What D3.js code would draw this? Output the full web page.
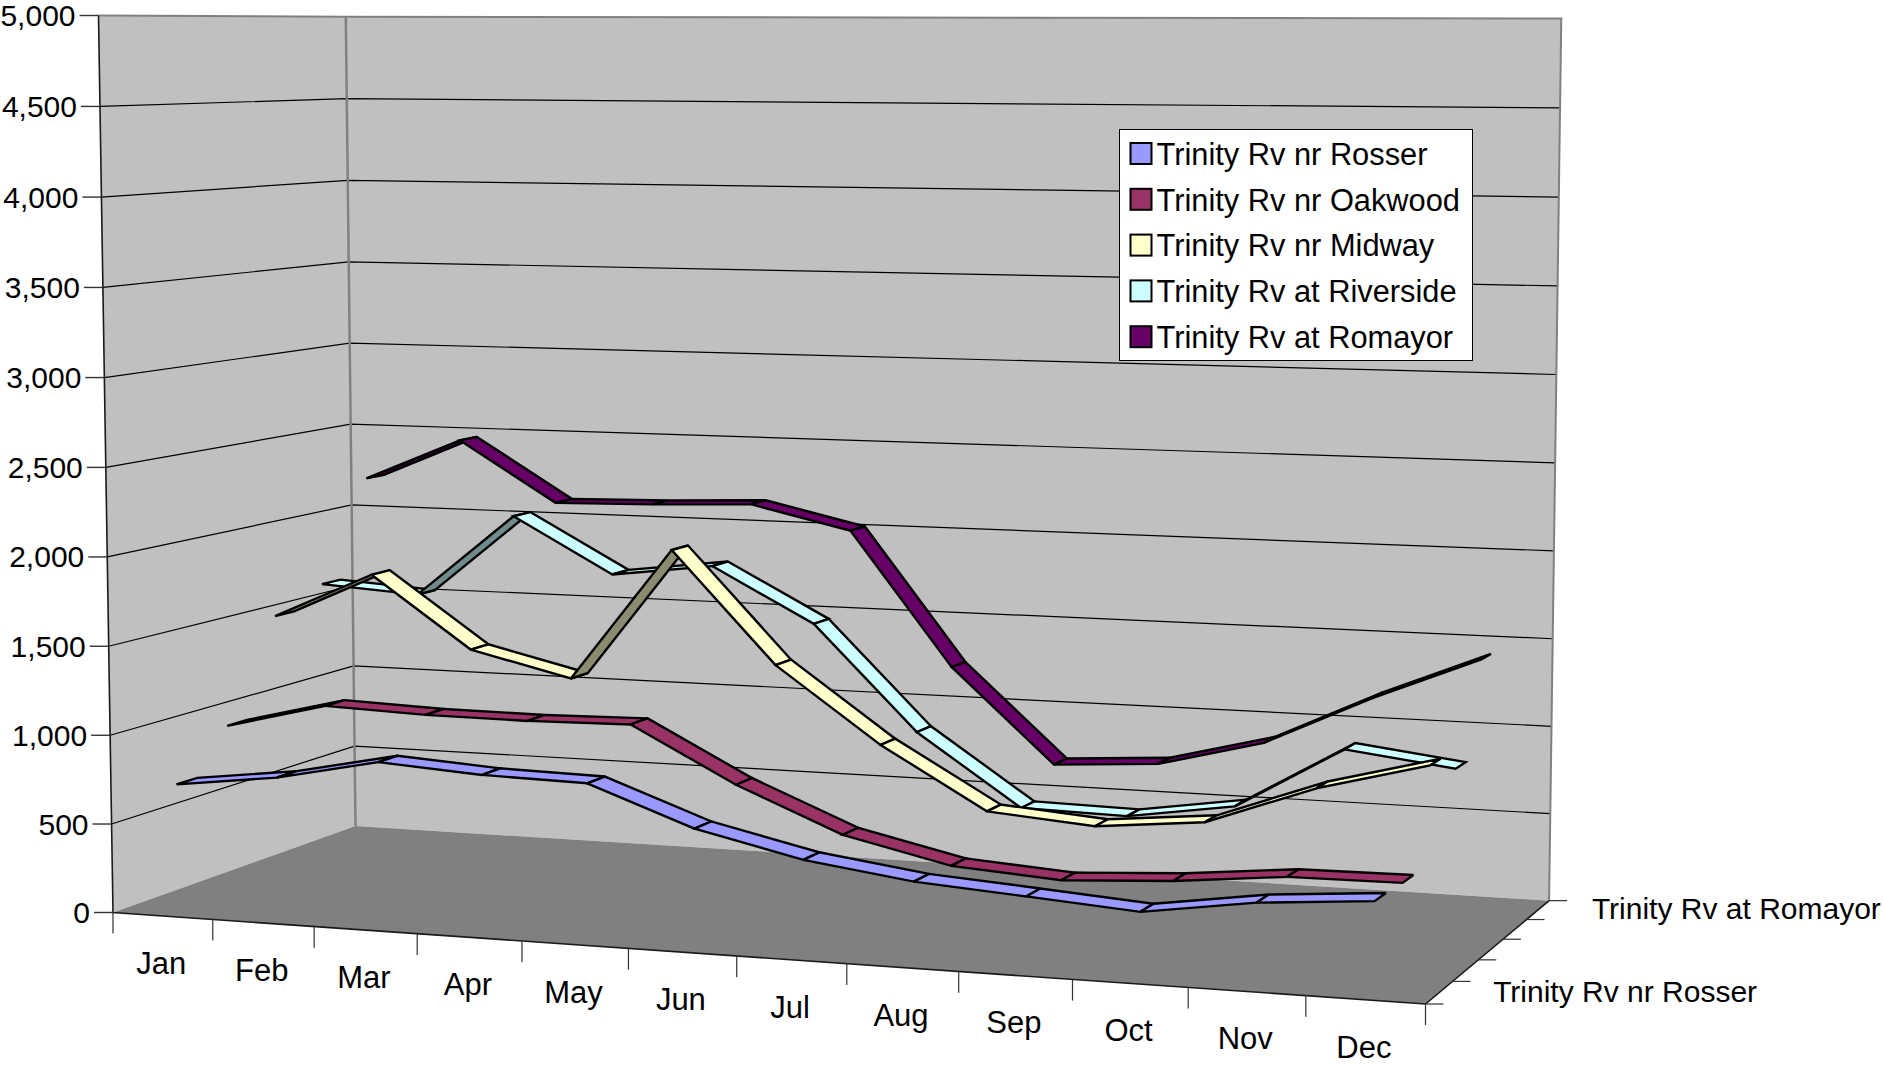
<!DOCTYPE html>
<html>
<head>
<meta charset="utf-8">
<script src="https://cdn.jsdelivr.net/npm/d3@7"></script>
<style>
    html, body { margin: 0; padding: 0; background: #ffffff; overflow: hidden; }
    text { font-family: "Liberation Sans", Arial, sans-serif; font-size: 31px; fill: #000000; }
    text.value-label, text.depth-label { font-size: 30px; }
    text.legend-label { font-size: 30.8px; }
</style>
</head>
<body>
<svg id="chart" width="1883" height="1067"></svg>
<script>
var months = ["Jan", "Feb", "Mar", "Apr", "May", "Jun", "Jul", "Aug", "Sep", "Oct", "Nov", "Dec"];
var seriesNames = ["Trinity Rv nr Rosser", "Trinity Rv nr Oakwood", "Trinity Rv nr Midway", "Trinity Rv at Riverside", "Trinity Rv at Romayor"];
var seriesColors = ["#9999ff", "#993366", "#ffffcc", "#ccffff", "#660066"];
var valueTicks = [0, 500, 1000, 1500, 2000, 2500, 3000, 3500, 4000, 4500, 5000];

var rosser    = [713, 785, 905, 868, 856, 643, 510, 430, 389, 346, 434, 481];
var oakwood   = [958, 1104, 1084, 1081, 1093, 789, 546, 412, 371, 405, 465, 471];
var midway    = [1517, 1785, 1378, 1240, 2002, 1375, 955, 615, 567, 625, 847, 1006];
var riverside = [1637, 1600, 2088, 1770, 1844, 1535, 940, 538, 527, 617, 971, 896];
var romayor   = [2213, 2464, 2108, 2121, 2144, 2010, 1235, 696, 733, 887, 1173, 1423];
var seriesValues = [rosser, oakwood, midway, riverside, romayor];

var origin = [113, 912.5],   // front left, floor
    right  = [1425.5, 1004], // front right, floor
    up     = [98.5, 15.5],   // front left, top of wall
    back   = [355.5, 826];   // back left, floor
var persp = { u: -0.0847, v: -0.015, w: 0.1084 };
var skew = [5, -6]; // back right top corner sits a bit off the pure perspective
var bow = 14;       // months bunch up a little more to the left than the corners say

function axisVector(corner, k) {
    return [(1 + k) * corner[0] - origin[0], (1 + k) * corner[1] - origin[1]];
}
var vecU = axisVector(right, persp.u),
    vecV = axisVector(up, persp.v),
    vecW = axisVector(back, persp.w);

function project(u, v, w) {
    let h = 1 + persp.u * u + persp.v * v + persp.w * w;
    return [
        (origin[0] + u * vecU[0] + v * vecV[0] + w * vecW[0]) / h + skew[0] * u * v * w - bow * u * (1 - u),
        (origin[1] + u * vecU[1] + v * vecV[1] + w * vecW[1]) / h + skew[1] * u * v * w
    ];
}

var monthScale = d3.scaleBand().domain(months).range([0, 1]);
var valueScale = d3.scaleLinear().domain([0, 5000]).range([0, 1]);
var depthScale = d3.scaleBand().domain(seriesNames).range([0, 1]);

function monthCenter(m) { return monthScale(m) + monthScale.bandwidth() / 2; }
function depthCenter(s) { return depthScale(s) + depthScale.bandwidth() / 2; }

var line = d3.line();
function polygon(points) { return line(points) + "Z"; }

var svg = d3.select("svg#chart");

// walls and floor
svg.append("path")
    .attr("d", polygon([project(0, 0, 0), project(0, 1, 0), project(0, 1, 1), project(0, 0, 1)]))
    .attr("fill", "#c0c0c0");
svg.append("path")
    .attr("d", polygon([project(0, 0, 1), project(0, 1, 1), project(1, 1, 1), project(1, 0, 1)]))
    .attr("fill", "#c0c0c0");
svg.append("path")
    .attr("d", polygon([project(0, 0, 0), project(1, 0, 0), project(1, 0, 1), project(0, 0, 1)]))
    .attr("fill", "#808080");

// gridlines
valueTicks.slice(1, -1).forEach(function(t) {
    let v = valueScale(t);
    svg.append("path")
        .attr("d", line([project(0, v, 0), project(0, v, 1), project(1, v, 1)]))
        .attr("fill", "none")
        .attr("stroke", "#000000")
        .attr("stroke-width", 1.2);
});

// wall edges
svg.append("path")
    .attr("d", line([project(0, 1, 0), project(0, 1, 1), project(1, 1, 1), project(1, 0, 1)]))
    .attr("fill", "none")
    .attr("stroke", "#808080")
    .attr("stroke-width", 2);
svg.append("path")
    .attr("d", line([project(0, 0, 1), project(0, 1, 1)]))
    .attr("fill", "none")
    .attr("stroke", "#808080")
    .attr("stroke-width", 2.5);
svg.append("path")
    .attr("d", line([project(0, 1, 0), project(0, 0, 0), project(1, 0, 0), project(1, 0, 1)]))
    .attr("fill", "none")
    .attr("stroke", "#1a1a1a")
    .attr("stroke-width", 1.6);

// value axis
valueTicks.forEach(function(t) {
    let p = project(0, valueScale(t), 0);
    svg.append("line")
        .attr("x1", p[0] - 19).attr("x2", p[0])
        .attr("y1", p[1]).attr("y2", p[1])
        .attr("stroke", "#333333")
        .attr("stroke-width", 1.4);
    svg.append("text")
        .attr("class", "value-label")
        .attr("x", p[0] - 23)
        .attr("y", p[1])
        .attr("dy", "0.35em")
        .style("text-anchor", "end")
        .text(d3.format(",")(t));
});

// month axis, one tick on each band edge
months.concat([null]).forEach(function(m) {
    let u = m === null ? 1 : monthScale(m);
    let p = project(u, 0, 0);
    svg.append("line")
        .attr("x1", p[0]).attr("x2", p[0])
        .attr("y1", p[1]).attr("y2", p[1] + 21)
        .attr("stroke", "#333333")
        .attr("stroke-width", 1.2);
});
months.forEach(function(m) {
    let p = project(monthCenter(m), 0, 0);
    svg.append("text")
        .attr("x", p[0] - 1.5)
        .attr("y", p[1] + 47)
        .attr("dy", "0.35em")
        .style("text-anchor", "middle")
        .text(m);
});

// depth axis
seriesNames.concat([null]).forEach(function(s) {
    let w = s === null ? 1 : depthScale(s);
    let p = project(1, 0, w);
    svg.append("line")
        .attr("x1", p[0]).attr("x2", p[0] + 18)
        .attr("y1", p[1]).attr("y2", p[1])
        .attr("stroke", "#333333")
        .attr("stroke-width", 1.2);
});
[seriesNames[0], seriesNames[4]].forEach(function(s) {
    let p = project(1, 0, depthCenter(s));
    svg.append("text")
        .attr("class", "depth-label")
        .attr("x", p[0] + 54)
        .attr("y", p[1] - 1)
        .attr("dy", "0.35em")
        .text(s);
});

// ribbons, back series first
var halfDepth = depthScale.bandwidth() * 0.2;

for (let s = seriesNames.length - 1; s >= 0; s--) {
    let w = depthCenter(seriesNames[s]);
    let values = seriesValues[s];
    let color = d3.rgb(seriesColors[s]);

    for (let i = 0; i < months.length - 1; i++) {
        let u0 = monthCenter(months[i]),
            u1 = monthCenter(months[i + 1]),
            v0 = valueScale(values[i]),
            v1 = valueScale(values[i + 1]);
        let quad = [
            project(u0, v0, w - halfDepth),
            project(u1, v1, w - halfDepth),
            project(u1, v1, w + halfDepth),
            project(u0, v0, w + halfDepth)
        ];
        // seen from below when the winding flips
        let underside = d3.polygonArea(quad) < 0;
        svg.append("path")
            .attr("d", polygon(quad))
            .attr("fill", underside ? color.darker(1.7).formatHex() : color.formatHex())
            .attr("stroke", "#000000")
            .attr("stroke-width", 2.4)
            .attr("stroke-linejoin", "miter")
            .attr("stroke-miterlimit", 3);
    }
}

// legend
var legend = svg.append("g").attr("transform", "translate(1119.5,129.5)");
legend.append("rect")
    .attr("width", 353)
    .attr("height", 231)
    .attr("fill", "#ffffff")
    .attr("stroke", "#000000")
    .attr("stroke-width", 1);

var legendRows = legend.selectAll("g.row")
    .data(seriesNames)
    .enter().append("g")
    .attr("class", "row")
    .attr("transform", function(d, i) { return "translate(0," + (12 + i * 45.8) + ")"; });

legendRows.append("rect")
    .attr("x", 11)
    .attr("y", 1.5)
    .attr("width", 21)
    .attr("height", 21)
    .attr("fill", function(d, i) { return seriesColors[i]; })
    .attr("stroke", "#000000")
    .attr("stroke-width", 2);

legendRows.append("text")
    .attr("class", "legend-label")
    .attr("x", 37)
    .attr("y", 12.5)
    .attr("dy", "0.35em")
    .text(function(d) { return d; });
</script>
</body>
</html>
